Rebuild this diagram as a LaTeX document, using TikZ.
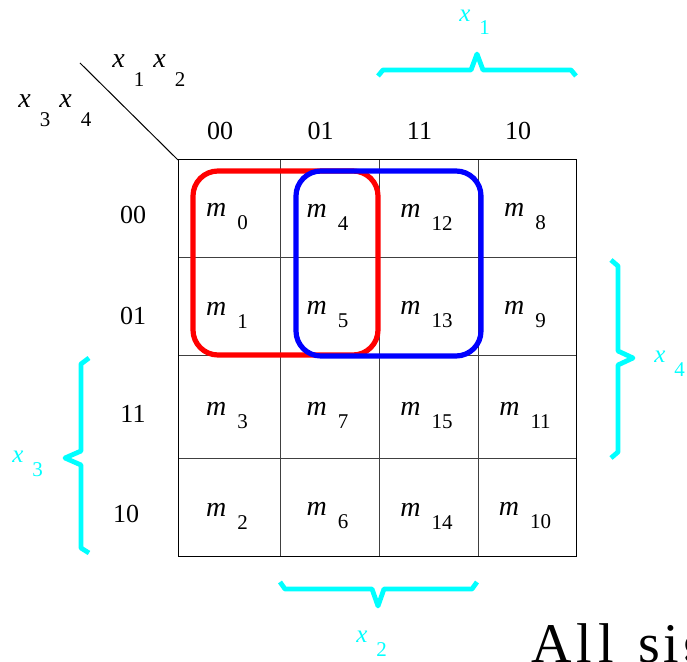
\documentclass[tikz,border=0pt]{standalone}
\usepackage{fontspec}
\setmainfont{Liberation Serif}
\usetikzlibrary{positioning,calc}
\definecolor{aqua}{RGB}{0,255,255}
\tikzstyle{cell} = [inner sep=0pt, font=\fontsize{14}{16}\selectfont]
\tikzstyle{hdr} = [inner sep=0pt, font=\fontsize{13}{15}\selectfont]
\tikzstyle{varlab} = [inner sep=0pt, anchor=base west, font=\fontsize{14}{16}\selectfont]
\tikzstyle{inner} = [draw=black!75, line width=0.5pt]
\tikzstyle{outer} = [draw=black, line width=0.5pt]
\tikzstyle{implicant} = [draw, rounded corners=12.5pt, line width=2.6pt]
\tikzstyle{cbrace} = [draw=aqua, line width=2.4pt, line join=round]
\tikzstyle{clabel} = [inner sep=0pt, anchor=base west, text=aqua, font=\fontsize{12.5}{14}\selectfont]
\newcommand{\mterm}[1]{\textit{m}\hspace{5.5pt}\raisebox{-6.5pt}{\fontsize{10.5}{12}\selectfont #1}}
\newcommand{\xvar}[2]{\textit{x}\hspace{4.5pt}\raisebox{-#2}{\fontsize{10.5}{12}\selectfont #1}}

\begin{document}
\begin{tikzpicture}[x=0.5pt, y=-0.5pt]
    \useasboundingbox (0,0) rectangle (687,662);
    \clip (0,0) rectangle (687,662);
    % Grid
    \coordinate (corner) at (178,160);
    \coordinate (diag) at (80,63);
    \foreach \x in {280,379,478} \draw[inner] (\x,160) -- (\x,557);
    \foreach \y in {258,356,459} \draw[inner] (178,\y) -- (576,\y);
    \draw[outer] (corner) rectangle (576,557);
    \draw[outer] (diag) -- (corner);
    % Variable labels
    \node[varlab] (x12) at (112,68) {\xvar{1}{9.5pt}\hspace{4.5pt}\xvar{2}{9.5pt}};
    \node[varlab] (x34) at (18,108) {\xvar{3}{9.5pt}\hspace{4.5pt}\xvar{4}{9.5pt}};
    % Headers
    \foreach \cx/\lab in {229/00,329.5/01,428.5/11,527/10}
        \node[hdr] (col\lab) at (\cx-9,131) {\lab};
    \foreach \ry/\rx/\lab in {215/133/00,316/133/01,414/133/11,514/126/10}
        \node[hdr] (row\lab) at (\rx,\ry) {\lab};
    % Minterms
    \foreach \cx/\cv in {229/0,329.5/1,428.5/3,527/2}
        \foreach \cy/\rv in {209/0,307/1,407.5/3,508/2} {
            \pgfmathtruncatemacro{\idx}{4*\cv+\rv}
            \node[cell] (m\idx) at (\cx-2,\cy+8) {\mterm{\idx}};
        }
    % Groups
    \draw[implicant, red] (193,171) rectangle (378,355);
    \draw[implicant, blue] (296,171) rectangle (481,356);
    % Braces
    \draw[cbrace] (378,76) -- (383,70) -- (471,70) -- (477,54) -- (483,70) -- (571,70) -- (576,76);
    \draw[cbrace] (611,260) -- (618,266) -- (618,351) -- (633,358) -- (618,365) -- (618,452) -- (611,458);
    \draw[cbrace] (89,358) -- (81,364) -- (81,451) -- (65,458) -- (81,465) -- (81,548) -- (89,553);
    \draw[cbrace] (280,582) -- (285,589) -- (372,589) -- (378,606) -- (384,589) -- (472,589) -- (477,582);
    \node[clabel] (lx1) at (459,22) {\xvar{1}{6.5pt}};
    \node[clabel] (lx4) at (654,363) {\xvar{4}{7pt}};
    \node[clabel] (lx3) at (12,463) {\xvar{3}{7pt}};
    \node[clabel] (lx2) at (356,643) {\xvar{2}{7pt}};
    % Caption
    \node[anchor=base west, inner sep=0pt, font=\fontsize{28}{34}\selectfont] (caption) at (531,663)
        {A\kern2.5pt l\kern3pt l\hspace{12.5pt}s\kern1.5pt i\kern1.5pt g};
\end{tikzpicture}
\end{document}
